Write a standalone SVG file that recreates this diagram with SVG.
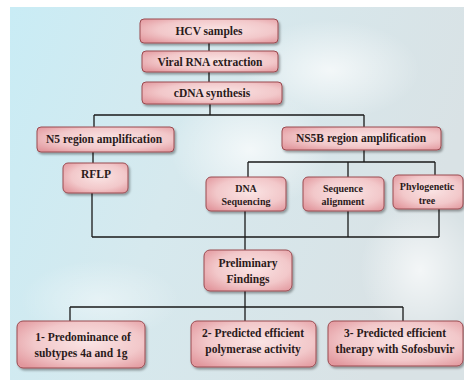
<svg xmlns="http://www.w3.org/2000/svg" width="464" height="382" viewBox="0 0 464 382">
<defs>
<linearGradient id="bg" x1="0" y1="0" x2="1" y2="0.3">
<stop offset="0" stop-color="#c9ecf5"/>
<stop offset="0.45" stop-color="#d6e9ee"/>
<stop offset="1" stop-color="#d9e2e5"/>
</linearGradient>
<radialGradient id="blob" cx="0.5" cy="0.5" r="0.5">
<stop offset="0" stop-color="#ffffff" stop-opacity="0.7"/>
<stop offset="1" stop-color="#ffffff" stop-opacity="0"/>
</radialGradient>
<radialGradient id="box" cx="0.55" cy="0.45" r="0.7">
<stop offset="0" stop-color="#fae4e4"/>
<stop offset="0.6" stop-color="#f2c8ca"/>
<stop offset="1" stop-color="#e2979d"/>
</radialGradient>
<filter id="sh" x="-10%" y="-20%" width="130%" height="150%">
<feDropShadow dx="1.5" dy="2" stdDeviation="1.2" flood-color="#000" flood-opacity="0.35"/>
</filter>
</defs>
<style>
.b{fill:url(#box);stroke:#9a4a50;stroke-width:1;filter:url(#sh)}
.t{font-family:"Liberation Serif","Times New Roman",serif;font-weight:bold;font-size:11.5px;fill:#2a1a1a;text-anchor:middle}
.s{font-size:10px}
.c{fill:none;stroke:#1a1a1a;stroke-width:1.3}
</style>
<rect x="0" y="0" width="464" height="382" fill="#ffffff"/>
<rect x="10" y="7" width="454" height="373" fill="url(#bg)"/>
<ellipse cx="330" cy="70" rx="90" ry="50" fill="url(#blob)"/>
<ellipse cx="250" cy="150" rx="80" ry="60" fill="url(#blob)"/>
<ellipse cx="420" cy="270" rx="60" ry="70" fill="url(#blob)"/>
<ellipse cx="100" cy="300" rx="80" ry="40" fill="url(#blob)" opacity="0.6"/>
<g id="connectors">
<path class="c" d="M209 43V51M209 72V82M210 104V115M94 115H364M94 115V127M364 115V127"/>
<path class="c" d="M93 152V163M364 150V162M248 162H435M248 162V177M348 162V177M435 162V175"/>
<path class="c" d="M92 193V237M348 211V237M439 209V237M92 237H439M245 211V250"/>
<path class="c" d="M245 291V307M70 307H403M70 307V321M245 307V321M403 307V321"/>
</g>
<g id="hcv"><rect class="b" x="140" y="19" width="138" height="24" rx="4"/><text class="t" x="209" y="35">HCV samples</text></g>
<g id="rna"><rect class="b" x="142" y="51" width="136" height="21" rx="4"/><text class="t" x="210" y="65.5">Viral RNA extraction</text></g>
<g id="cdna"><rect class="b" x="142" y="82" width="140" height="22" rx="4"/><text class="t" x="212" y="97">cDNA synthesis</text></g>
<g id="n5"><rect class="b" x="37" y="127" width="137" height="25" rx="4"/><text class="t" x="104" y="143">N5 region amplification</text></g>
<g id="ns5b"><rect class="b" x="282" y="127" width="159" height="23" rx="4"/><text class="t" x="361" y="142">NS5B region amplification</text></g>
<g id="rflp"><rect class="b" x="63" y="163" width="65" height="30" rx="5"/><text class="t" x="96" y="178">RFLP</text></g>
<g id="dnaseq"><rect class="b" x="206" y="177" width="80" height="34" rx="5"/><text class="t s" x="246" y="192">DNA</text><text class="t s" x="246" y="205">Sequencing</text></g>
<g id="seqalign"><rect class="b" x="303" y="177" width="81" height="34" rx="5"/><text class="t s" x="343" y="192">Sequence</text><text class="t s" x="343" y="205">alignment</text></g>
<g id="phylo"><rect class="b" x="393" y="175" width="70" height="34" rx="5"/><text class="t s" x="427" y="190">Phylogenetic</text><text class="t s" x="427" y="204">tree</text></g>
<g id="prelim"><rect class="b" x="204" y="250" width="88" height="41" rx="6"/><text class="t" x="248" y="267">Preliminary</text><text class="t" x="248" y="283">Findings</text></g>
<g id="f1"><rect class="b" x="17" y="321" width="128" height="47" rx="6"/><text class="t" x="83" y="341">1- Predominance of</text><text class="t" x="81" y="357">subtypes 4a and 1g</text></g>
<g id="f2"><rect class="b" x="191" y="321" width="125" height="46" rx="6"/><text class="t" x="253" y="337">2- Predicted efficient</text><text class="t" x="253" y="353">polymerase activity</text></g>
<g id="f3"><rect class="b" x="328" y="321" width="135" height="45" rx="6"/><text class="t" x="395" y="337">3- Predicted efficient</text><text class="t" x="395" y="353">therapy with Sofosbuvir</text></g>
</svg>
